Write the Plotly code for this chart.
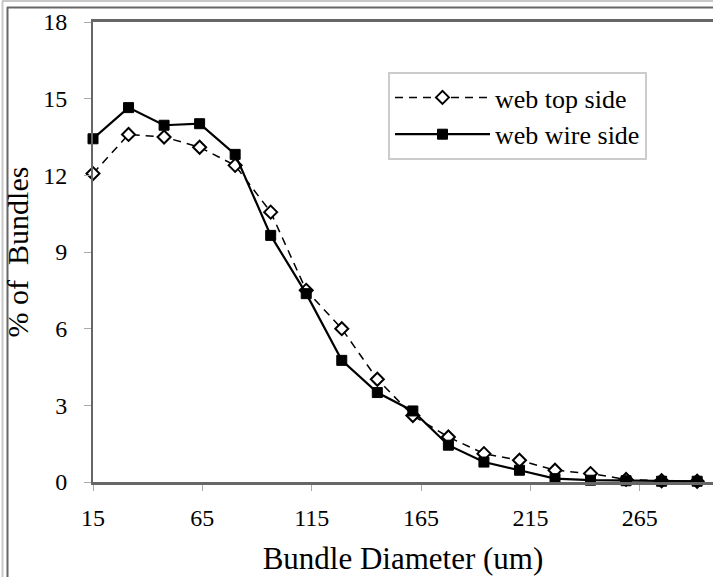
import plotly.graph_objects as go

# Data
x_start = 15
x_step = 16.25
n_points = 18
diameters = [x_start + i * x_step for i in range(n_points)]

top_side = [12.07, 13.6, 13.5, 13.1, 12.39, 10.56, 7.5, 6.0, 4.02, 2.6,
            1.76, 1.11, 0.85, 0.46, 0.33, 0.1, 0.05, 0.03]
wire_side = [13.43, 14.65, 13.96, 14.02, 12.82, 9.65, 7.37, 4.76, 3.5, 2.78,
             1.44, 0.78, 0.46, 0.13, 0.07, 0.05, 0.03, 0.03]

x_ticks = [15, 65, 115, 165, 215, 265]
y_ticks = [0, 3, 6, 9, 12, 15, 18]

series_names = ["web top side", "web wire side"]

FONT = "Liberation Serif, Times New Roman, serif"

fig = go.Figure()
fig.add_trace(go.Scatter(
    x=diameters, y=top_side, name=series_names[0], mode="lines+markers",
    line=dict(color="black", width=1.5, dash="8px,6px"),
    marker=dict(symbol="diamond", size=10, color="white",
                line=dict(color="black", width=2)),
    cliponaxis=False,
))
fig.add_trace(go.Scatter(
    x=diameters, y=wire_side, name=series_names[1], mode="lines+markers",
    line=dict(color="black", width=2.2),
    marker=dict(symbol="square", size=10, color="black",
                line=dict(color="black", width=1)),
    cliponaxis=False,
))

W, H = 713, 577
L, R, T, B = 93, 0, 22, 95
pw, ph = W - L - R, H - T - B

def px_x(p):
    return (p - L) / pw

def px_y(p):
    return 1 - (p - T) / ph

shapes = [
    # outer light frame
    dict(type="line", xref="paper", yref="paper", x0=px_x(2), x1=px_x(W),
         y0=px_y(1), y1=px_y(1), line=dict(color="#c8c8c8", width=2)),
    dict(type="line", xref="paper", yref="paper", x0=px_x(2.5), x1=px_x(2.5),
         y0=px_y(1), y1=px_y(H), line=dict(color="#c8c8c8", width=2)),
    # inner dark frame
    dict(type="line", xref="paper", yref="paper", x0=px_x(7), x1=px_x(W),
         y0=px_y(7.5), y1=px_y(7.5), line=dict(color="#666666", width=2)),
    dict(type="line", xref="paper", yref="paper", x0=px_x(7.5), x1=px_x(7.5),
         y0=px_y(7), y1=px_y(H), line=dict(color="#666666", width=2)),
]

fig.update_layout(
    width=W, height=H,
    margin=dict(l=L, r=R, t=T, b=B, pad=0),
    paper_bgcolor="white", plot_bgcolor="white",
    font=dict(family=FONT, size=24, color="black"),
    showlegend=True,
    legend=dict(
        x=px_x(388), y=px_y(72), xanchor="left", yanchor="top",
        bgcolor="white", bordercolor="#cccccc", borderwidth=2,
        font=dict(family=FONT, size=26, color="black"),
        tracegroupgap=0, itemwidth=95,
    ),
    shapes=shapes,
    xaxis=dict(
        range=[15, 15 + pw / 2.187], tickmode="array", tickvals=x_ticks,
        ticktext=[str(v) for v in x_ticks],
        showgrid=False, zeroline=False,
        showline=True, linecolor="#666666", linewidth=3, mirror=True,
        ticks="outside", ticklen=6, tickcolor="#aaaaaa", tickwidth=1,
        tickfont=dict(family=FONT, size=24, color="black"),
        ticklabelstandoff=6,
        title=dict(text="Bundle Diameter (um)", standoff=18,
                   font=dict(family=FONT, size=31, color="black")),
    ),
    yaxis=dict(
        range=[0, 18], tickmode="array", tickvals=y_ticks,
        ticktext=[str(v) for v in y_ticks],
        showgrid=False, zeroline=False,
        showline=True, linecolor="#666666", linewidth=2,
        ticks="outside", ticklen=7, tickcolor="#aaaaaa", tickwidth=1,
        tickfont=dict(family=FONT, size=24, color="black"),
        ticklabelstandoff=12,
        title=dict(text="% of  Bundles", standoff=6,
                   font=dict(family=FONT, size=30, color="black")),
    ),
)

fig.write_html("out.html")
